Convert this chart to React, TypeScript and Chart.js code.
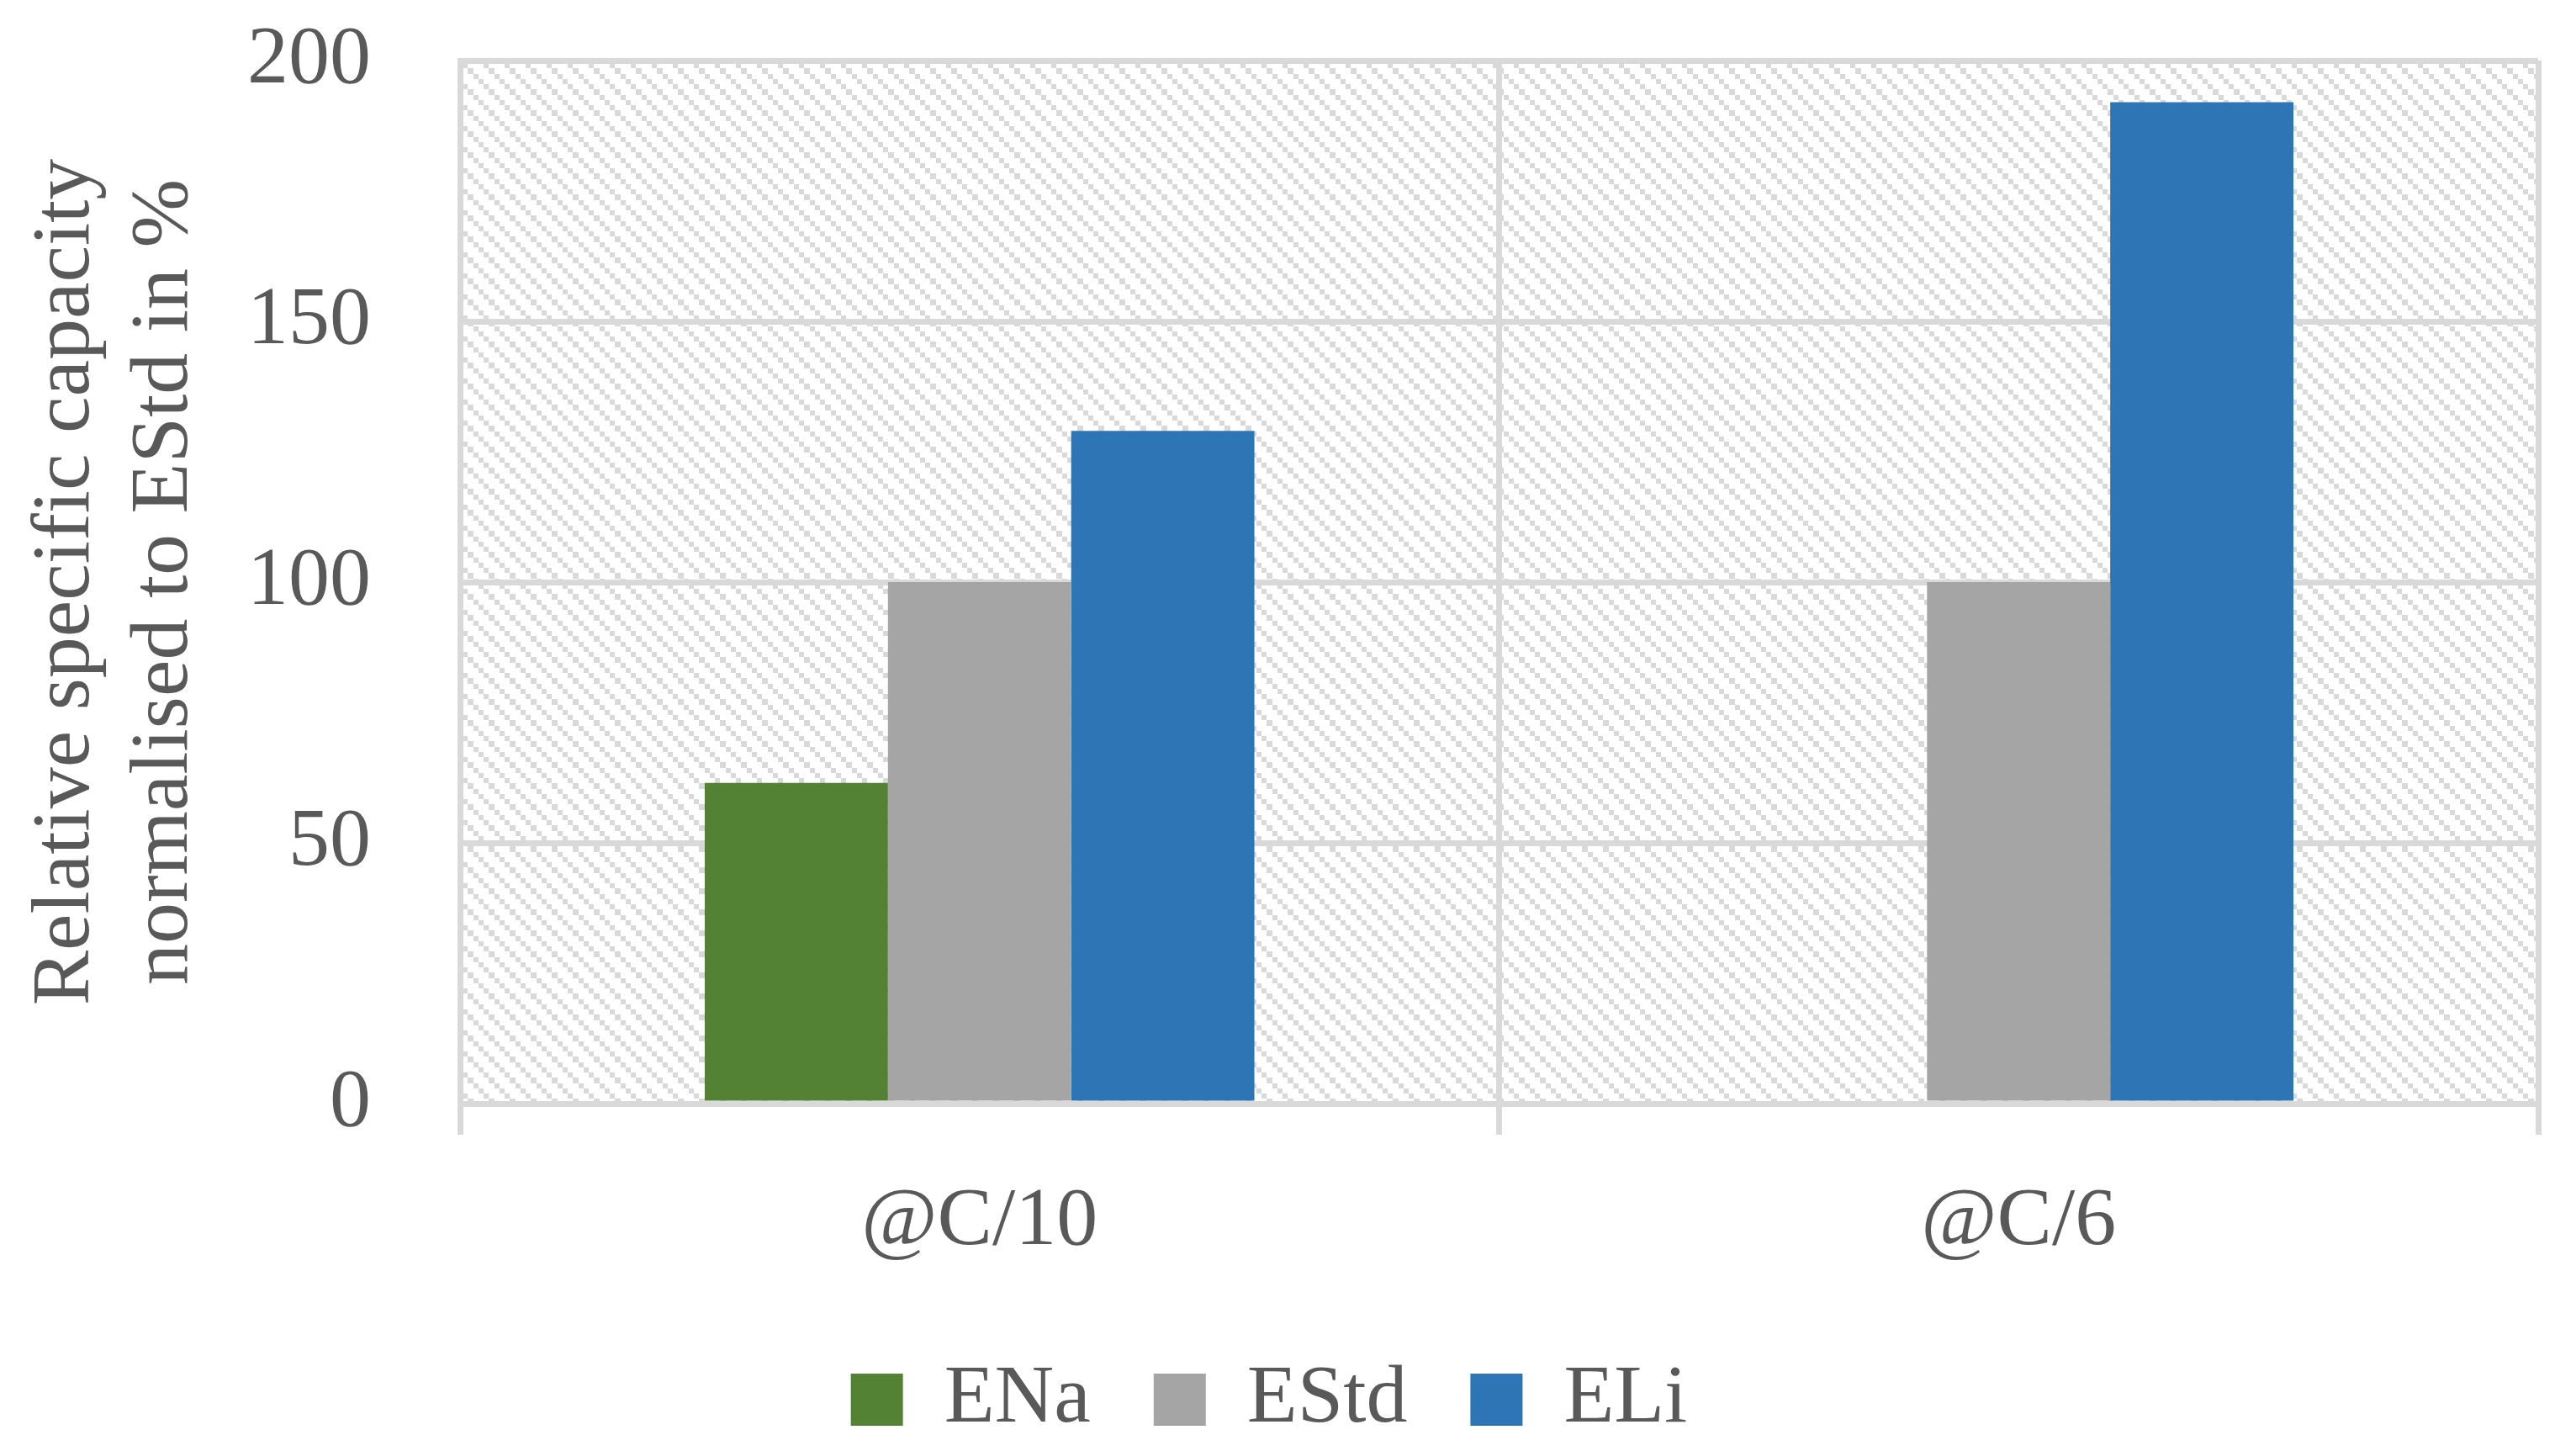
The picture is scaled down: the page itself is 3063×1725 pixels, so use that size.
import React, { useEffect, useRef } from "react";
import { Chart, registerables } from "chart.js";

Chart.register(...registerables);

const categories = ["@C/10", "@C/6"];
const seriesNames = ["ENa", "EStd", "ELi"];
const enaValues: (number | null)[] = [61.5, null];
const estdValues: (number | null)[] = [100, 100];
const eliValues: (number | null)[] = [129, 192];
const seriesColors = ["#548235", "#a5a5a5", "#2e75b6"];
const yTitle = ["Relative specific capacity", "normalised to EStd in %"];
const yMin = 0;
const yMax = 200;
const yStep = 50;

const W = 3063;
const H = 1725;
const GRID = "#d9d9d9";
const TEXT = "#595959";
const FONT = "'Liberation Serif', 'Times New Roman', serif";

function makePattern(ctx: CanvasRenderingContext2D): CanvasPattern | string {
  const c = document.createElement("canvas");
  c.width = 25;
  c.height = 25;
  const p = c.getContext("2d");
  if (!p) return "#ffffff";
  p.fillStyle = "#ffffff";
  p.fillRect(0, 0, 25, 25);
  p.fillStyle = GRID;
  const pos = [0, 6, 13, 19];
  const sz = [6, 7, 6, 6];
  for (let i = 0; i < 4; i++) {
    p.fillRect(pos[i], pos[i], sz[i], sz[i]);
  }
  return ctx.createPattern(c, "repeat") || "#ffffff";
}

const backgroundPlugin = {
  id: "bgPattern",
  beforeDraw(chart: any) {
    const { ctx, chartArea } = chart;
    ctx.save();
    ctx.fillStyle = "#ffffff";
    ctx.fillRect(0, 0, chart.width, chart.height);
    ctx.fillStyle = makePattern(ctx);
    ctx.fillRect(
      chartArea.left,
      chartArea.top,
      chartArea.right - chartArea.left,
      chartArea.bottom - chartArea.top
    );
    ctx.restore();
  },
};

export default function App() {
  const ref = useRef<HTMLCanvasElement | null>(null);

  useEffect(() => {
    document.body.style.margin = "0";
    const canvas = ref.current;
    if (!canvas) return;
    const seriesValues = [enaValues, estdValues, eliValues];
    const chart = new Chart(canvas, {
      type: "bar",
      data: {
        labels: categories,
        datasets: seriesNames.map((name, i) => ({
          label: name,
          data: seriesValues[i],
          backgroundColor: seriesColors[i],
          borderWidth: 0,
          categoryPercentage: 0.529,
          barPercentage: 1,
        })),
      },
      options: {
        responsive: false,
        animation: false,
        devicePixelRatio: 1,
        layout: { padding: { top: 72, left: 0, right: 45, bottom: 2 } },
        plugins: {
          legend: {
            display: true,
            position: "bottom",
            labels: {
              boxWidth: 62,
              boxHeight: 62,
              padding: 75,
              color: TEXT,
              font: { family: FONT, size: 98 },
            },
          },
          tooltip: { enabled: false },
        },
        scales: {
          x: {
            offset: true,
            grid: {
              display: true,
              offset: true,
              color: GRID,
              lineWidth: 7,
              drawTicks: true,
              tickLength: 37,
              tickColor: GRID,
              tickWidth: 7,
            },
            border: { display: true, color: GRID, width: 7 },
            ticks: {
              color: TEXT,
              padding: 45,
              font: { family: FONT, size: 98, lineHeight: 1.2 },
            },
            afterFit: (scale: any) => {
              scale.height = 228;
            },
          },
          y: {
            min: yMin,
            max: yMax,
            ticks: {
              stepSize: yStep,
              color: TEXT,
              padding: 0,
              font: { family: FONT, size: 98, lineHeight: 1.2 },
            },
            grid: {
              display: true,
              color: GRID,
              lineWidth: 7,
              drawTicks: true,
              tickLength: 106,
              tickColor: "rgba(0,0,0,0)",
              tickWidth: 0,
            },
            border: { display: true, color: GRID, width: 7 },
            title: {
              display: true,
              text: yTitle,
              color: TEXT,
              padding: { top: 20, bottom: 0 },
              font: { family: FONT, size: 98, lineHeight: 1.2 },
            },
            afterFit: (scale: any) => {
              scale.width = 547;
            },
          },
        },
      },
      plugins: [backgroundPlugin],
    });
    return () => chart.destroy();
  }, []);

  return (
    <div style={{ width: W, height: H, background: "#ffffff" }}>
      <canvas ref={ref} width={W} height={H} style={{ display: "block" }} />
    </div>
  );
}
